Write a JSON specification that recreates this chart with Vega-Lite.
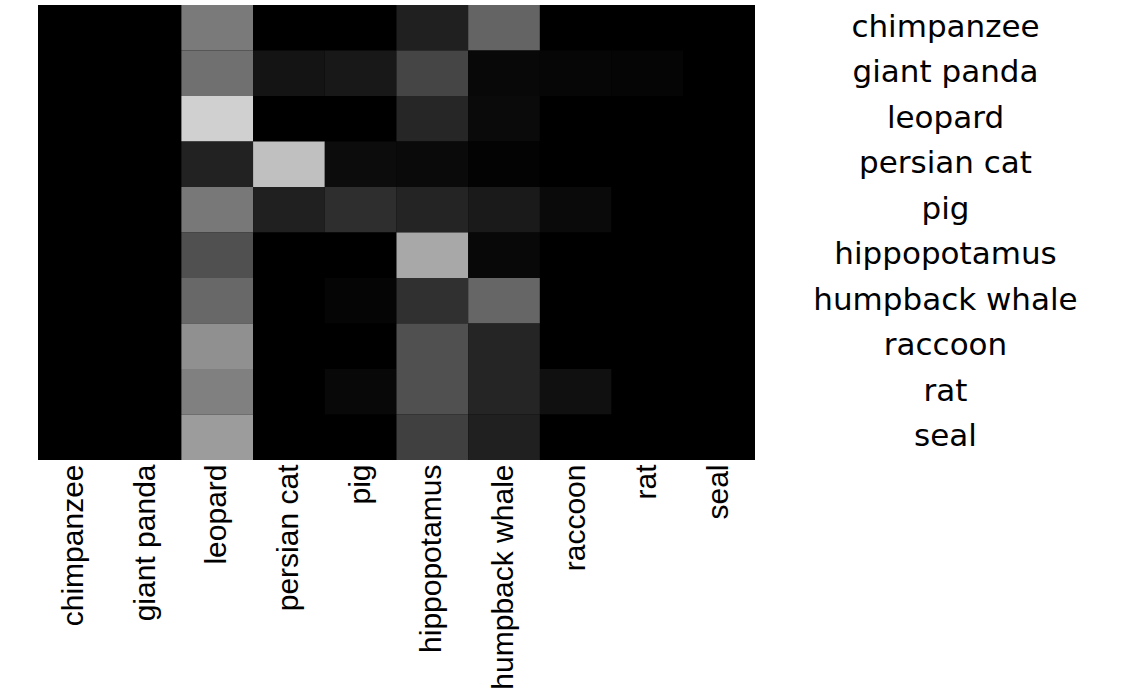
{
  "$schema": "https://vega.github.io/schema/vega-lite/v6.json",
  "width": 717,
  "height": 455,
  "autosize": {"type": "none"},
  "padding": {"left": 38, "top": 5, "right": 377, "bottom": 235},
  "background": "white",
  "config": {"view": {"stroke": null, "fill": "black"}},
  "data": {"values": [
    {"actual": "chimpanzee", "predicted": "chimpanzee", "v": 0},
    {"actual": "chimpanzee", "predicted": "giant panda", "v": 0},
    {"actual": "chimpanzee", "predicted": "leopard", "v": 122},
    {"actual": "chimpanzee", "predicted": "persian cat", "v": 0},
    {"actual": "chimpanzee", "predicted": "pig", "v": 0},
    {"actual": "chimpanzee", "predicted": "hippopotamus", "v": 32},
    {"actual": "chimpanzee", "predicted": "humpback whale", "v": 100},
    {"actual": "chimpanzee", "predicted": "raccoon", "v": 0},
    {"actual": "chimpanzee", "predicted": "rat", "v": 0},
    {"actual": "chimpanzee", "predicted": "seal", "v": 0},
    {"actual": "giant panda", "predicted": "chimpanzee", "v": 0},
    {"actual": "giant panda", "predicted": "giant panda", "v": 0},
    {"actual": "giant panda", "predicted": "leopard", "v": 112},
    {"actual": "giant panda", "predicted": "persian cat", "v": 20},
    {"actual": "giant panda", "predicted": "pig", "v": 24},
    {"actual": "giant panda", "predicted": "hippopotamus", "v": 69},
    {"actual": "giant panda", "predicted": "humpback whale", "v": 8},
    {"actual": "giant panda", "predicted": "raccoon", "v": 6},
    {"actual": "giant panda", "predicted": "rat", "v": 5},
    {"actual": "giant panda", "predicted": "seal", "v": 0},
    {"actual": "leopard", "predicted": "chimpanzee", "v": 0},
    {"actual": "leopard", "predicted": "giant panda", "v": 0},
    {"actual": "leopard", "predicted": "leopard", "v": 208},
    {"actual": "leopard", "predicted": "persian cat", "v": 0},
    {"actual": "leopard", "predicted": "pig", "v": 0},
    {"actual": "leopard", "predicted": "hippopotamus", "v": 38},
    {"actual": "leopard", "predicted": "humpback whale", "v": 10},
    {"actual": "leopard", "predicted": "raccoon", "v": 0},
    {"actual": "leopard", "predicted": "rat", "v": 0},
    {"actual": "leopard", "predicted": "seal", "v": 0},
    {"actual": "persian cat", "predicted": "chimpanzee", "v": 0},
    {"actual": "persian cat", "predicted": "giant panda", "v": 0},
    {"actual": "persian cat", "predicted": "leopard", "v": 34},
    {"actual": "persian cat", "predicted": "persian cat", "v": 192},
    {"actual": "persian cat", "predicted": "pig", "v": 12},
    {"actual": "persian cat", "predicted": "hippopotamus", "v": 10},
    {"actual": "persian cat", "predicted": "humpback whale", "v": 3},
    {"actual": "persian cat", "predicted": "raccoon", "v": 0},
    {"actual": "persian cat", "predicted": "rat", "v": 0},
    {"actual": "persian cat", "predicted": "seal", "v": 0},
    {"actual": "pig", "predicted": "chimpanzee", "v": 0},
    {"actual": "pig", "predicted": "giant panda", "v": 0},
    {"actual": "pig", "predicted": "leopard", "v": 120},
    {"actual": "pig", "predicted": "persian cat", "v": 32},
    {"actual": "pig", "predicted": "pig", "v": 46},
    {"actual": "pig", "predicted": "hippopotamus", "v": 36},
    {"actual": "pig", "predicted": "humpback whale", "v": 26},
    {"actual": "pig", "predicted": "raccoon", "v": 10},
    {"actual": "pig", "predicted": "rat", "v": 0},
    {"actual": "pig", "predicted": "seal", "v": 0},
    {"actual": "hippopotamus", "predicted": "chimpanzee", "v": 0},
    {"actual": "hippopotamus", "predicted": "giant panda", "v": 0},
    {"actual": "hippopotamus", "predicted": "leopard", "v": 80},
    {"actual": "hippopotamus", "predicted": "persian cat", "v": 0},
    {"actual": "hippopotamus", "predicted": "pig", "v": 0},
    {"actual": "hippopotamus", "predicted": "hippopotamus", "v": 168},
    {"actual": "hippopotamus", "predicted": "humpback whale", "v": 8},
    {"actual": "hippopotamus", "predicted": "raccoon", "v": 0},
    {"actual": "hippopotamus", "predicted": "rat", "v": 0},
    {"actual": "hippopotamus", "predicted": "seal", "v": 0},
    {"actual": "humpback whale", "predicted": "chimpanzee", "v": 0},
    {"actual": "humpback whale", "predicted": "giant panda", "v": 0},
    {"actual": "humpback whale", "predicted": "leopard", "v": 104},
    {"actual": "humpback whale", "predicted": "persian cat", "v": 0},
    {"actual": "humpback whale", "predicted": "pig", "v": 5},
    {"actual": "humpback whale", "predicted": "hippopotamus", "v": 48},
    {"actual": "humpback whale", "predicted": "humpback whale", "v": 102},
    {"actual": "humpback whale", "predicted": "raccoon", "v": 0},
    {"actual": "humpback whale", "predicted": "rat", "v": 0},
    {"actual": "humpback whale", "predicted": "seal", "v": 0},
    {"actual": "raccoon", "predicted": "chimpanzee", "v": 0},
    {"actual": "raccoon", "predicted": "giant panda", "v": 0},
    {"actual": "raccoon", "predicted": "leopard", "v": 144},
    {"actual": "raccoon", "predicted": "persian cat", "v": 0},
    {"actual": "raccoon", "predicted": "pig", "v": 0},
    {"actual": "raccoon", "predicted": "hippopotamus", "v": 80},
    {"actual": "raccoon", "predicted": "humpback whale", "v": 37},
    {"actual": "raccoon", "predicted": "raccoon", "v": 0},
    {"actual": "raccoon", "predicted": "rat", "v": 0},
    {"actual": "raccoon", "predicted": "seal", "v": 0},
    {"actual": "rat", "predicted": "chimpanzee", "v": 0},
    {"actual": "rat", "predicted": "giant panda", "v": 0},
    {"actual": "rat", "predicted": "leopard", "v": 128},
    {"actual": "rat", "predicted": "persian cat", "v": 0},
    {"actual": "rat", "predicted": "pig", "v": 8},
    {"actual": "rat", "predicted": "hippopotamus", "v": 80},
    {"actual": "rat", "predicted": "humpback whale", "v": 37},
    {"actual": "rat", "predicted": "raccoon", "v": 16},
    {"actual": "rat", "predicted": "rat", "v": 0},
    {"actual": "rat", "predicted": "seal", "v": 0},
    {"actual": "seal", "predicted": "chimpanzee", "v": 0},
    {"actual": "seal", "predicted": "giant panda", "v": 0},
    {"actual": "seal", "predicted": "leopard", "v": 156},
    {"actual": "seal", "predicted": "persian cat", "v": 0},
    {"actual": "seal", "predicted": "pig", "v": 0},
    {"actual": "seal", "predicted": "hippopotamus", "v": 64},
    {"actual": "seal", "predicted": "humpback whale", "v": 32},
    {"actual": "seal", "predicted": "raccoon", "v": 0},
    {"actual": "seal", "predicted": "rat", "v": 0},
    {"actual": "seal", "predicted": "seal", "v": 0}
  ]},
  "mark": {"type": "rect"},
  "encoding": {
    "x": {
      "field": "predicted", "type": "nominal", "sort": null,
      "scale": {"paddingInner": 0, "paddingOuter": 0},
      "axis": {"title": null, "orient": "bottom", "labelAngle": -90, "ticks": false, "domain": false,
               "labelPadding": 4, "labelFont": "Liberation Sans", "labelFontSize": 30,
               "labelColor": "black", "labelLimit": 0, "labelOverlap": false}
    },
    "y": {
      "field": "actual", "type": "nominal", "sort": null,
      "scale": {"paddingInner": 0, "paddingOuter": 0},
      "axis": {"title": null, "orient": "right", "ticks": false, "domain": false,
               "labelAlign": "center", "labelBaseline": "middle", "labelPadding": 190,
               "labelFont": "DejaVu Sans", "labelFontSize": 31, "labelColor": "black",
               "labelLimit": 0, "labelOverlap": false}
    },
    "color": {
      "field": "v", "type": "quantitative",
      "scale": {"domain": [0, 255], "range": ["#000000", "#ffffff"], "interpolate": "rgb"},
      "legend": null
    }
  }
}
